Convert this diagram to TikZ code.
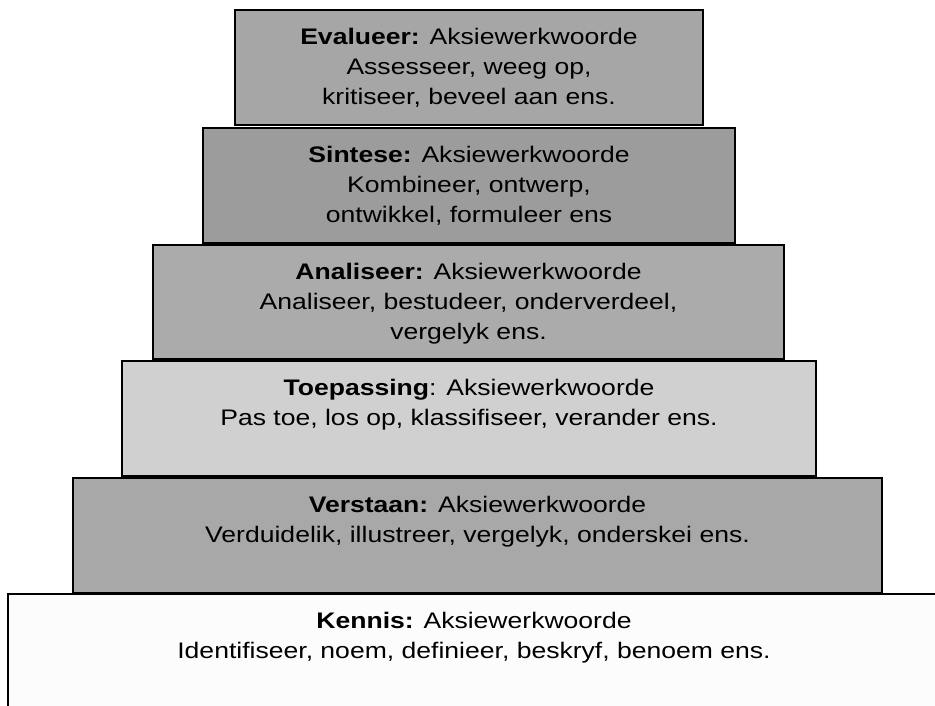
\documentclass[tikz,border=0pt]{standalone}
\usepackage{fontspec}
\setmainfont[FakeStretch=1.18]{Liberation Sans}
\definecolor{evc}{HTML}{A6A6A6}
\definecolor{sic}{HTML}{9C9C9C}
\definecolor{anc}{HTML}{ABABAB}
\definecolor{toc}{HTML}{D0D0D0}
\definecolor{vec}{HTML}{A8A8A8}
\definecolor{kec}{HTML}{FCFCFC}
\tikzset{
  tier/.style={draw=black, line width=2.5pt, inner sep=0pt, outer sep=0pt, anchor=north west},
  tiertext/.style={anchor=north, inner sep=0pt, align=center, font=\fontsize{22.5}{30}\selectfont},
}
\begin{document}
\begin{tikzpicture}[x=1pt,y=-1pt]
\useasboundingbox (0,0) rectangle (935,705);
\fill[white] (0,0) rectangle (935,705);
\node[tier, fill=evc, minimum width=468pt, minimum height=115pt] (eval) at (235,10) {};
\node[tier, fill=sic, minimum width=532pt, minimum height=115pt] (sint) at (203,128) {};
\node[tier, fill=anc, minimum width=631pt, minimum height=114pt] (anal) at (153,245) {};
\node[tier, fill=toc, minimum width=694pt, minimum height=115pt] (toep) at (122,361) {};
\node[tier, fill=vec, minimum width=809pt, minimum height=115pt] (vers) at (73,478) {};
\node[tier, fill=kec, minimum width=932pt, minimum height=130pt] (kenn) at (8,594) {};
\node[tiertext] (evalt) at ([yshift=-18pt]eval.north) {\textbf{Evalueer:} Aksiewerkwoorde\\Assesseer, weeg op,\\kritiseer, beveel aan ens.};
\node[tiertext] (sintt) at ([yshift=-18pt]sint.north) {\textbf{Sintese:} Aksiewerkwoorde\\Kombineer, ontwerp,\\ontwikkel, formuleer ens};
\node[tiertext] (analt) at ([yshift=-18pt]anal.north) {\textbf{Analiseer:} Aksiewerkwoorde\\Analiseer, bestudeer, onderverdeel,\\vergelyk ens.};
\node[tiertext] (toept) at ([yshift=-18pt]toep.north) {\textbf{Toepassing}: Aksiewerkwoorde\\Pas toe, los op, klassifiseer, verander ens.};
\node[tiertext] (verst) at ([yshift=-18pt]vers.north) {\textbf{Verstaan:} Aksiewerkwoorde\\Verduidelik, illustreer, vergelyk, onderskei ens.};
\node[tiertext] (kennt) at ([yshift=-18pt]kenn.north) {\textbf{Kennis:} Aksiewerkwoorde\\Identifiseer, noem, definieer, beskryf, benoem ens.};
\end{tikzpicture}
\end{document}
